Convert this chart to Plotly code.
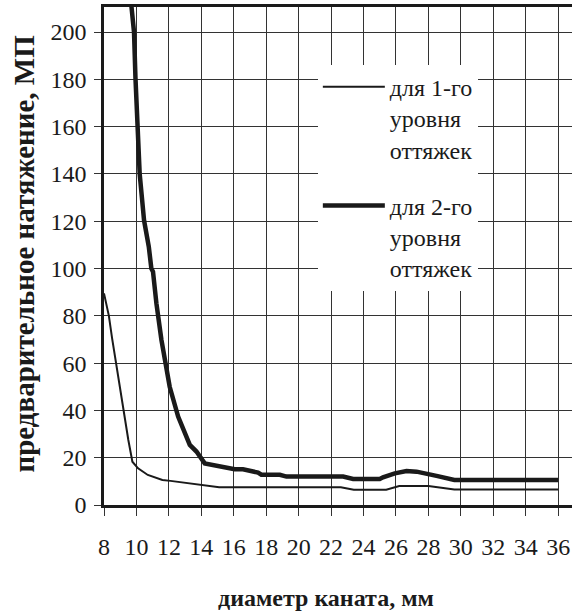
import plotly.graph_objects as go

# Data
diam_1 = [8, 8.3, 8.5, 8.8, 9.2, 9.5, 9.75, 10.1, 10.7, 11.6, 12.1, 13.3, 14.1, 15.1,
          16, 18, 20, 22.6, 23.4, 25.4, 26.2, 28, 29.6, 32, 34, 36]
tension_1 = [89.5, 80, 70.5, 57, 39, 27.5, 18.3, 15.5, 12.7, 10.6, 10.2, 9.2, 8.5, 7.5,
             7.5, 7.5, 7.5, 7.5, 6.5, 6.5, 8.0, 8.0, 6.6, 6.6, 6.6, 6.6]

diam_2 = [9.69, 9.85, 9.94, 10.06, 10.2, 10.47, 10.76, 10.92, 11.02, 11.23, 11.54, 12.05,
          12.57, 13.29, 13.7, 14.21, 15.14, 16.06, 16.57, 17.5, 17.7, 18.84, 19.25, 22.74,
          23.36, 25.0, 25.2, 25.93, 26.65, 27.27, 28.5, 29.6, 36]
tension_2 = [211, 200, 180.5, 160, 140, 120.3, 109.3, 100, 98.7, 85.3, 69.8, 50,
             37.4, 25.4, 22.6, 17.6, 16.2, 15.1, 15.1, 13.7, 12.8, 12.8, 12.0, 12.0,
             11.0, 11.0, 11.7, 13.4, 14.4, 14.1, 12.3, 10.6, 10.6]

x_ticks = list(range(8, 37, 2))
y_ticks = list(range(0, 201, 20))

name_1 = "для 1-го<br>уровня<br>оттяжек"
name_2 = "для 2-го<br>уровня<br>оттяжек"
x_title = "диаметр каната, мм"
y_title = "предварительное натяжение, МП"

FONT = "Liberation Serif, Times New Roman, serif"
INK = "#1a1a1a"
W, H = 572, 612
L, R, T, B = 104.3, 0, 7.3, 107
pw = W - L - R
ph = H - T - B


def px_x(p):
    return (p - L) / pw


def px_y(p):
    return (H - B - p) / ph


fig = go.Figure()
fig.add_trace(go.Scatter(x=diam_1, y=tension_1, mode="lines", name=name_1,
                         legendgroup="a",
                         line=dict(color=INK, width=2)))
fig.add_trace(go.Scatter(x=diam_2, y=tension_2, mode="lines", name=name_2,
                         legendgroup="b",
                         line=dict(color=INK, width=4.5)))

fig.update_layout(
    width=W, height=H,
    margin=dict(l=L, r=R, t=T, b=B, pad=0),
    paper_bgcolor="white", plot_bgcolor="white",
    font=dict(family=FONT, size=24, color=INK),
    showlegend=True,
    legend=dict(
        x=px_x(318), y=px_y(65), xanchor="left", yanchor="top",
        bgcolor="white", borderwidth=0,
        font=dict(family=FONT, size=24, color=INK),
        itemwidth=62, valign="top", tracegroupgap=22,
    ),
    shapes=[
        dict(type="rect", xref="paper", yref="paper", layer="between",
             x0=px_x(274), x1=px_x(521), y0=px_y(314), y1=px_y(53),
             fillcolor="white", line=dict(width=0)),
    ],
    xaxis=dict(
        range=[8, 8 + (W - L) / 16.21], tickmode="array", tickvals=x_ticks,
        ticktext=[str(v) for v in x_ticks],
        showgrid=True, gridcolor="#333", gridwidth=1,
        showline=True, linecolor=INK, linewidth=2.5, mirror=True,
        ticks="outside", ticklen=8, tickcolor="#333", tickwidth=1,
        ticklabelstandoff=10, zeroline=False, automargin=False,
        tickfont=dict(family=FONT, size=24),
    ),
    yaxis=dict(
        range=[0, (H - B - T) / 2.3635], tickmode="array", tickvals=y_ticks,
        showgrid=True, gridcolor="#333", gridwidth=1,
        showline=True, linecolor=INK, linewidth=2.5,
        ticks="outside", ticklen=7, tickcolor="#333", tickwidth=1,
        ticklabelstandoff=3, zeroline=False, automargin=False,
        tickfont=dict(family=FONT, size=24),
    ),
    annotations=[
        dict(text=f"<b>{x_title}</b>", xref="paper", yref="paper",
             x=px_x(326), y=px_y(598), xanchor="center", yanchor="middle",
             showarrow=False, font=dict(family=FONT, size=24, color=INK)),
        dict(text=f"<b>{y_title}</b>", xref="paper", yref="paper", textangle=-90,
             x=px_x(24), y=px_y(254), xanchor="center", yanchor="middle",
             showarrow=False, font=dict(family=FONT, size=29, color=INK)),
    ],
)

fig.write_html("out.html")
